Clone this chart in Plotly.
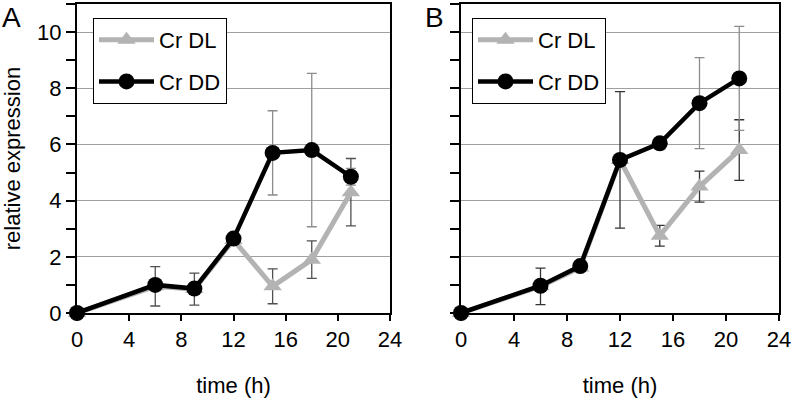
import plotly.graph_objects as go

time_h = [0, 6, 9, 12, 15, 18, 21]

# Panel A
a_dl = [0.0, 0.95, 0.85, 2.6, 0.95, 1.9, 4.3]
a_dl_err = [0.0, 0.7, 0.57, 0.1, 0.62, 0.67, 1.2]
a_dd = [0.0, 1.0, 0.87, 2.65, 5.7, 5.8, 4.85]
a_dd_err = [0.0, 0.2, 0.2, 0.1, 1.5, 2.73, 0.3]

# Panel B
b_dl = [0.0, 0.95, 1.62, 5.45, 2.75, 4.5, 5.8]
b_dl_err = [0.0, 0.65, 0.1, 2.43, 0.37, 0.55, 1.08]
b_dd = [0.0, 0.97, 1.67, 5.45, 6.04, 7.47, 8.35]
b_dd_err = [0.0, 0.2, 0.1, 0.2, 0.2, 1.62, 1.85]

y_tickvals = [0, 2, 4, 6, 8, 10]
x_tickvals = [0, 4, 8, 12, 16, 20, 24]

DL_COLOR = "#b3b3b3"
DD_COLOR = "#000000"
FONT = "Liberation Sans, Arial, sans-serif"
FS = 22

fig = go.Figure()


def add_panel(xa, ya, dl, dl_err, dd, dd_err, legend, dl_err_color, dd_err_color):
    fig.add_trace(go.Scatter(
        x=time_h, y=dl, name="Cr DL", mode="lines+markers",
        line=dict(color=DL_COLOR, width=5),
        marker=dict(symbol="triangle-up", size=16, color=DL_COLOR),
        error_y=dict(type="data", array=dl_err, visible=True,
                     color=dl_err_color, thickness=1.3, width=5),
        xaxis=xa, yaxis=ya, legend=legend, legendgroup="dl" + legend,
        cliponaxis=False,
    ))
    fig.add_trace(go.Scatter(
        x=time_h, y=dd, name="Cr DD", mode="lines+markers",
        line=dict(color=DD_COLOR, width=4.5),
        marker=dict(symbol="circle", size=16, color=DD_COLOR),
        error_y=dict(type="data", array=dd_err, visible=True,
                     color=dd_err_color, thickness=1.3, width=5),
        xaxis=xa, yaxis=ya, legend=legend, legendgroup="dd" + legend,
        cliponaxis=False,
    ))


add_panel("x", "y", a_dl, a_dl_err, a_dd, a_dd_err, "legend", "#505050", "#8c8c8c")
add_panel("x2", "y2", b_dl, b_dl_err, b_dd, b_dd_err, "legend2", "#333333", "#8c8c8c")

xaxis_common = dict(
    range=[0, 24], tickvals=x_tickvals, ticks="outside", ticklen=6, tickwidth=2,
    tickcolor="black", showline=True, linecolor="black", linewidth=2, mirror=True,
    showgrid=False, zeroline=False, tickfont=dict(size=FS, color="black"),
    title=dict(text="time (h)", font=dict(size=FS, color="black"), standoff=26),
    automargin=False,
)
yaxis_common = dict(
    range=[0, 11], tickvals=y_tickvals, ticks="outside", ticklen=9, tickwidth=2,
    tickcolor="black", showline=True, linecolor="black", linewidth=2, mirror=True,
    showgrid=True, gridcolor="#a0a0a0", gridwidth=1, zeroline=False,
    tickfont=dict(size=FS, color="black"), automargin=False,
    minor=dict(dtick=1, tick0=0, ticks="outside", ticklen=9, tickwidth=2,
               tickcolor="black", showgrid=False),
)

legend_common = dict(
    y=1 - 18 / 400, xanchor="left", yanchor="top",
    bgcolor="white", bordercolor="black", borderwidth=1,
    font=dict(size=FS, color="black"), itemwidth=55,
    traceorder="grouped", tracegroupgap=10,
)

fig.update_layout(
    width=793, height=400,
    margin=dict(l=0, r=0, t=0, b=0),
    paper_bgcolor="white", plot_bgcolor="white",
    font=dict(family=FONT, color="black"),
    xaxis=dict(xaxis_common, domain=[77 / 793, 390 / 793], anchor="y"),
    yaxis=dict(yaxis_common, domain=[1 - 313 / 400, 1 - 4 / 400], anchor="x",
               title=dict(text="relative expression", font=dict(size=FS, color="black"), standoff=14)),
    xaxis2=dict(xaxis_common, domain=[461 / 793, 779 / 793], anchor="y2"),
    yaxis2=dict(yaxis_common, domain=[1 - 313 / 400, 1 - 4 / 400], anchor="x2",
                showticklabels=False),
    legend=dict(legend_common, x=93 / 793),
    legend2=dict(legend_common, x=472 / 793),
    showlegend=True,
    annotations=[
        dict(text="A", x=0, y=1, xref="paper", yref="paper", xanchor="left",
             yanchor="top", showarrow=False, font=dict(size=28, color="black")),
        dict(text="B", x=423 / 793, y=1, xref="paper", yref="paper", xanchor="left",
             yanchor="top", showarrow=False, font=dict(size=28, color="black")),
    ],
)

fig.write_html("out.html", config={"displayModeBar": False},
               post_script="document.body.style.margin='0';")
